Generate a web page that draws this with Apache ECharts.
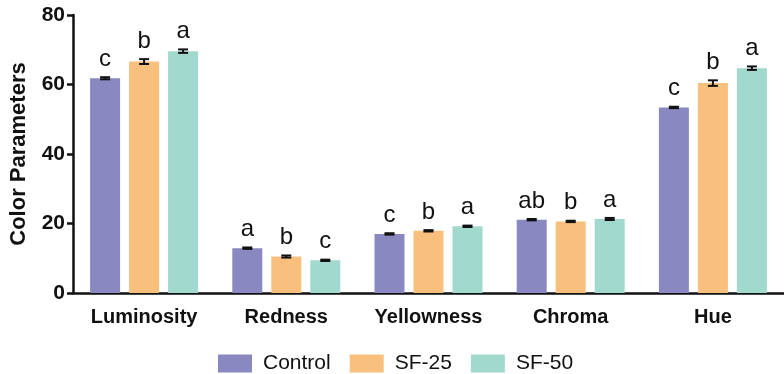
<!DOCTYPE html>
<html><head><meta charset="utf-8">
<script src="https://cdn.jsdelivr.net/npm/echarts@6/dist/echarts.min.js"></script>
<style>html,body{margin:0;padding:0;background:#fff}#c{width:784px;height:374px}</style>
</head><body><div id="c"></div>
<script>
const categories = ['Luminosity', 'Redness', 'Yellowness', 'Chroma', 'Hue'];
const seriesNames = ['Control', 'SF-25', 'SF-50'];
const controlVals = [61.8, 12.9, 17.0, 21.1, 53.4];
const sf25Vals = [66.6, 10.5, 17.9, 20.6, 60.4];
const sf50Vals = [69.6, 9.4, 19.2, 21.3, 64.7];
const controlErr = [0.3, 0.2, 0.2, 0.2, 0.2];
const sf25Err = [0.7, 0.3, 0.2, 0.2, 0.8];
const sf50Err = [0.5, 0.2, 0.2, 0.3, 0.5];
const controlLetters = ['c', 'a', 'c', 'ab', 'c'];
const sf25Letters = ['b', 'b', 'b', 'b', 'b'];
const sf50Letters = ['a', 'c', 'a', 'a', 'a'];
const yTicks = [0, 20, 40, 60, 80];

const colors = ['#8988C1', '#F9BF7D', '#A2D9CF'];
const values = [controlVals, sf25Vals, sf50Vals];
const errs = [controlErr, sf25Err, sf50Err];
const letters = [controlLetters, sf25Letters, sf50Letters];
const BAR_W = 30, BAR_STEP = 39;
const FONT = '"Liberation Sans", Arial, sans-serif';

const chart = echarts.init(document.getElementById('c'), null, {renderer: 'canvas'});
const series = [];
seriesNames.forEach((name, i) => {
  series.push({
    name: name, type: 'bar', data: values[i], barWidth: BAR_W, barGap: '30%',
    itemStyle: {color: colors[i]}, z: 2
  });
});
seriesNames.forEach((name, i) => {
  series.push({
    type: 'custom', name: name + '_err', z: 5, silent: true,
    data: categories.map((c, k) => [k, values[i][k], errs[i][k]]),
    encode: {x: 0, y: 1},
    renderItem: function (params, api) {
      const k = api.value(0), v = api.value(1), e = api.value(2);
      const base = api.coord([k, v]);
      const x = base[0] + (i - 1) * BAR_STEP;
      const top = api.coord([k, v + e])[1];
      const bot = api.coord([k, v - e])[1];
      const capW = 5;
      const ls = {stroke: '#111', lineWidth: 2};
      return {type: 'group', children: [
        {type: 'line', shape: {x1: x, y1: top, x2: x, y2: bot}, style: ls},
        {type: 'line', shape: {x1: x - capW, y1: top, x2: x + capW, y2: top}, style: ls},
        {type: 'line', shape: {x1: x - capW, y1: bot, x2: x + capW, y2: bot}, style: ls},
        {type: 'text', x: x, y: top - 6, style: {text: letters[i][k], fill: '#111',
          font: '24px ' + FONT, textAlign: 'center', textVerticalAlign: 'bottom'}}
      ]};
    }
  });
});

chart.setOption({
  animation: false,
  backgroundColor: '#fff',
  grid: {left: 71, right: -2, top: 15, bottom: 81},
  legend: {
    data: seriesNames, left: 213, top: 348, itemWidth: 34, itemHeight: 18, itemGap: 19,
    icon: 'rect',
    textStyle: {fontSize: 21, color: '#111', fontFamily: FONT, padding: [0, 0, 0, 6]}
  },
  xAxis: {
    type: 'category', data: categories,
    axisLine: {lineStyle: {color: '#111', width: 2.5}},
    axisTick: {alignWithLabel: true, length: 7, lineStyle: {color: '#111', width: 2.5}},
    axisLabel: {fontSize: 20, fontWeight: 'bold', color: '#111', margin: 14, fontFamily: FONT}
  },
  yAxis: {
    type: 'value', min: yTicks[0], max: yTicks[yTicks.length - 1], interval: 20,
    name: 'Color Parameters', nameLocation: 'middle', nameGap: 43,
    nameTextStyle: {fontSize: 22, fontWeight: 'bold', color: '#111', fontFamily: FONT},
    splitLine: {show: false},
    axisLine: {show: true, lineStyle: {color: '#111', width: 2.5}},
    axisTick: {show: true, length: 6, lineStyle: {color: '#111', width: 2.5}},
    axisLabel: {fontSize: 21, fontWeight: 'bold', color: '#111', margin: 8, fontFamily: FONT}
  },
  series: series
});
</script></body></html>
